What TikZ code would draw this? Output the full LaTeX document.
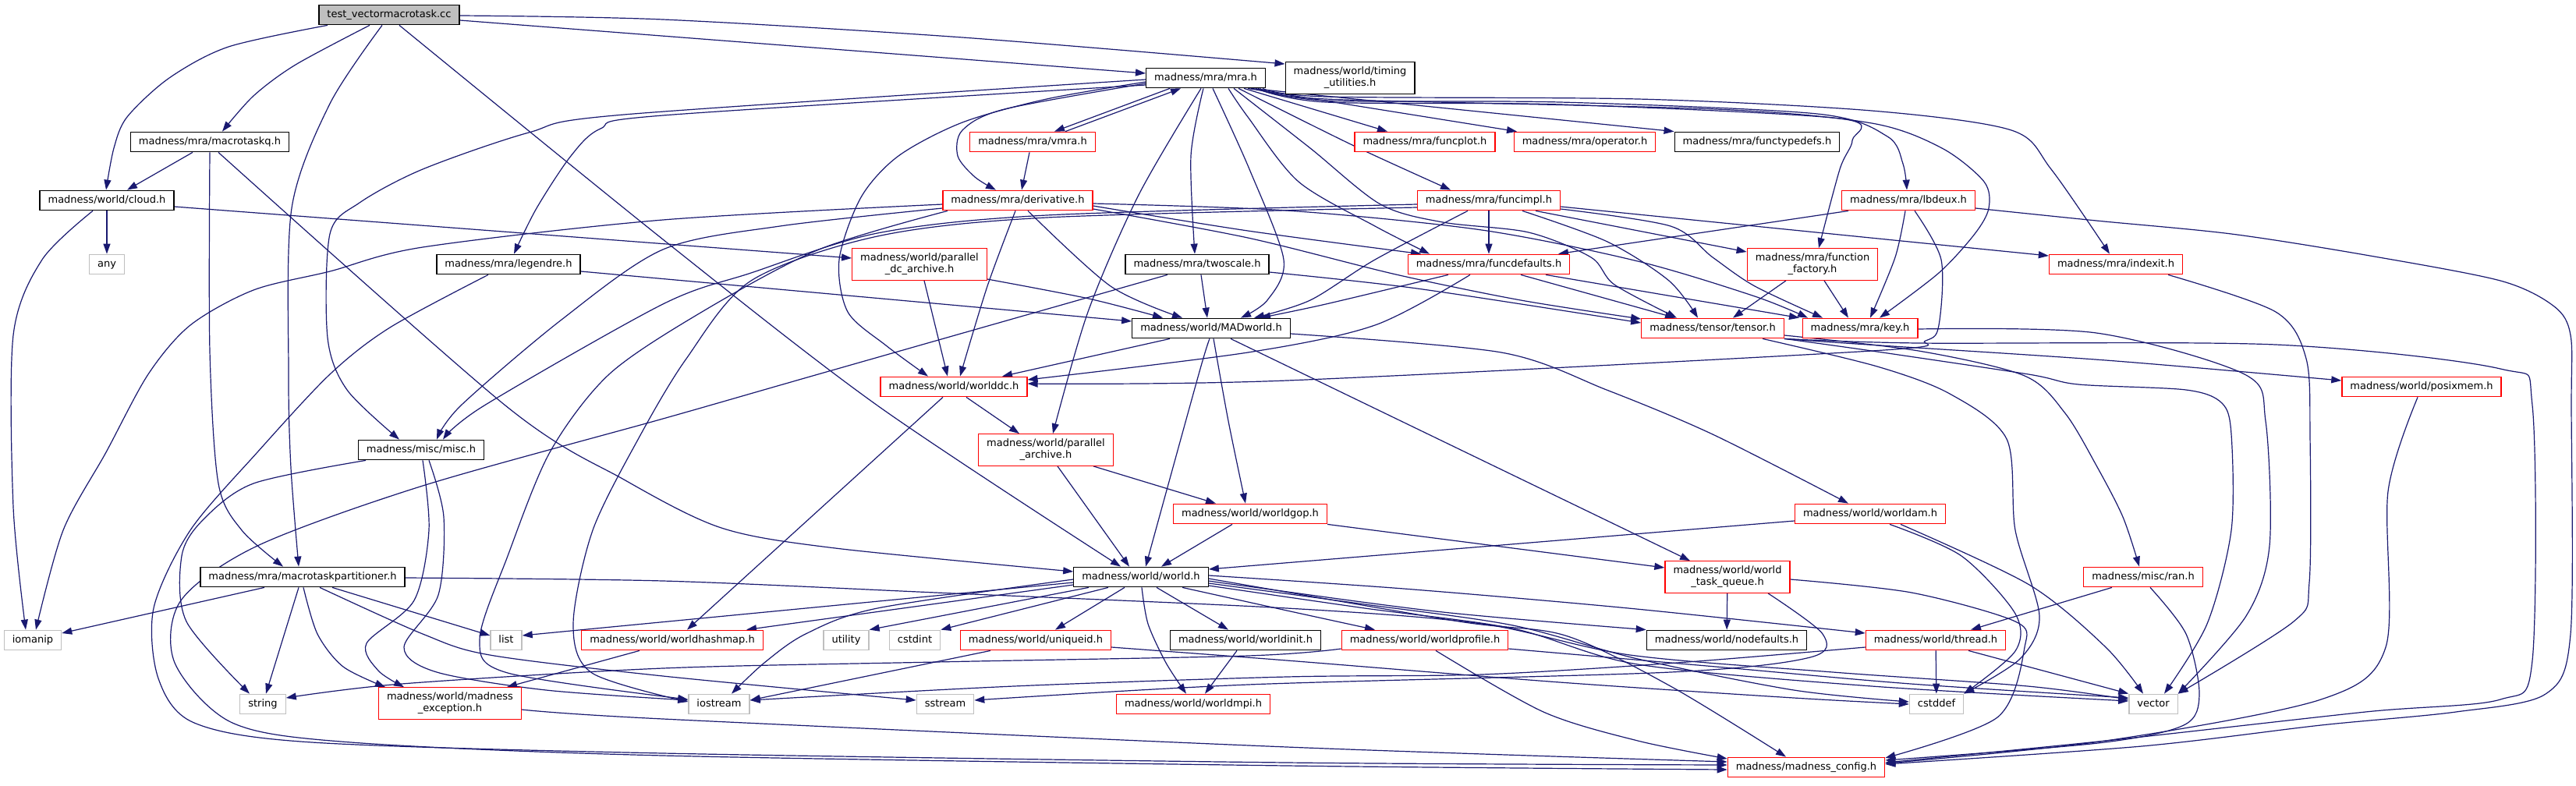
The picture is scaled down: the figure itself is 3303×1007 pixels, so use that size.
\documentclass[tikz,border=0pt]{standalone}
\usepackage{fontspec}
\setmainfont{DejaVu Sans}
\usetikzlibrary{arrows.meta}
\definecolor{edgec}{HTML}{191970}
\definecolor{rdc}{HTML}{FF0000}
\definecolor{grc}{HTML}{BFBFBF}
\pgfdeclarelayer{background}
\pgfsetlayers{background,main}
\tikzset{
 box/.style={draw, line width=1.3pt, fill=white, inner xsep=10.5pt, inner ysep=0pt, minimum height=25.5pt, font=\fontsize{13pt}{15pt}\selectfont, text height=9.6pt, text depth=2.9pt},
 rd/.style={box, draw=rdc},
 bk/.style={box, draw=black},
 gy/.style={box, draw=grc},
 two/.style={align=center, text height={}, text depth={}, minimum height=40.5pt, inner ysep=2pt},
 edge/.style={draw=edgec, line width=1.2pt, -{Triangle[length=13pt,width=9pt]}},
}
\begin{document}
\begin{tikzpicture}[x=1pt,y=-1pt]
\useasboundingbox (0,0) rectangle (3303,1007);
% nodes
\node[bk,fill=grc] (test) at (499,19) {test\_vectormacrotask.cc};
\node[bk] (mra) at (1546,100) {madness/mra/mra.h};
\node[bk,two] (timing) at (1731,100) {madness/world/timing\\\_utilities.h};
\node[bk] (mtq) at (269,182) {madness/mra/macrotaskq.h};
\node[rd] (vmra) at (1324,182) {madness/mra/vmra.h};
\node[rd] (funcplot) at (1827,182) {madness/mra/funcplot.h};
\node[rd] (operator) at (2032,182) {madness/mra/operator.h};
\node[bk] (functypedefs) at (2253,182) {madness/mra/functypedefs.h};
\node[bk] (cloud) at (137,257) {madness/world/cloud.h};
\node[rd] (deriv) at (1305,257) {madness/mra/derivative.h};
\node[rd] (funcimpl) at (1909,257) {madness/mra/funcimpl.h};
\node[rd] (lbdeux) at (2447,257) {madness/mra/lbdeux.h};
\node[gy] (any) at (137,339) {any};
\node[bk] (legendre) at (652,339) {madness/mra/legendre.h};
\node[rd,two] (pdca) at (1179,339) {madness/world/parallel\\\_dc\_archive.h};
\node[bk] (twoscale) at (1535,339) {madness/mra/twoscale.h};
\node[rd] (funcdef) at (1909,339) {madness/mra/funcdefaults.h};
\node[rd,two] (ffact) at (2324,339) {madness/mra/function\\\_factory.h};
\node[rd] (indexit) at (2713,339) {madness/mra/indexit.h};
\node[bk] (MAD) at (1553,421) {madness/world/MADworld.h};
\node[rd] (tensor) at (2196,421) {madness/tensor/tensor.h};
\node[rd] (key) at (2385,421) {madness/mra/key.h};
\node[rd] (worlddc) at (1223,496) {madness/world/worlddc.h};
\node[rd] (posix) at (3105,496) {madness/world/posixmem.h};
\node[bk] (misc) at (540,577) {madness/misc/misc.h};
\node[rd,two] (parch) at (1341,577) {madness/world/parallel\\\_archive.h};
\node[rd] (worldgop) at (1603,659) {madness/world/worldgop.h};
\node[rd] (worldam) at (2398,659) {madness/world/worldam.h};
\node[bk] (mtp) at (388,740) {madness/mra/macrotaskpartitioner.h};
\node[bk] (world) at (1463,740) {madness/world/world.h};
\node[rd,two] (wtq) at (2215,740) {madness/world/world\\\_task\_queue.h};
\node[rd] (ran) at (2748,740) {madness/misc/ran.h};
\node[gy] (iomanip) at (42,821) {iomanip};
\node[gy] (list) at (649,821) {list};
\node[rd] (whash) at (862,821) {madness/world/worldhashmap.h};
\node[gy] (utility) at (1085,821) {utility};
\node[gy] (cstdint) at (1173,821) {cstdint};
\node[rd] (uniqueid) at (1328,821) {madness/world/uniqueid.h};
\node[bk] (worldinit) at (1597,821) {madness/world/worldinit.h};
\node[rd] (wprof) at (1827,821) {madness/world/worldprofile.h};
\node[bk] (nodefaults) at (2214,821) {madness/world/nodefaults.h};
\node[rd] (thread) at (2482,821) {madness/world/thread.h};
\node[gy] (string) at (337,903) {string};
\node[rd,two] (mexc) at (577,902) {madness/world/madness\\\_exception.h};
\node[gy] (iostream) at (922,903) {iostream};
\node[gy] (sstream) at (1212,903) {sstream};
\node[rd] (worldmpi) at (1530,903) {madness/world/worldmpi.h};
\node[gy] (cstddef) at (2483,903) {cstddef};
\node[gy] (vector) at (2761,903) {vector};
\node[rd] (config) at (2316,984) {madness/madness\_config.h};
\begin{pgfonlayer}{background}
\fill[white] (0,0) rectangle (3303,1007);
% test
\draw[edge] (test.east |- 0,26) -- (mra.west |- 0,94);
\draw[edge] plot[smooth] coordinates {(test.east |- 0,20) (850,25) (1234,48) (timing.west |- 0,82)};
\draw[edge] plot[smooth] coordinates {(test.south -| 474,0) (379,83) (325,123) (mtq.north -| 285,0)};
\draw[edge] plot[smooth] coordinates {(test.south -| 420,0) (293,60) (217,100) (163,150) (146,190) (cloud.north -| 136,0)};
\draw[edge] plot[smooth] coordinates {(test.south -| 490,0) (423,133) (374,267) (370,480) (373,600) (mtp.north -| 383,0)};
\draw[edge] plot[smooth] coordinates {(test.south -| 512,0) (850,307) (1125,520) (world.north -| 1437,0)};
% mtq
\draw[edge] (mtq.south -| 247,0) -- (cloud.north -| 163,0);
\draw[edge] plot[smooth] coordinates {(mtq.south -| 269,0) (269,450) (280,620) (310,680) (mtp.north -| 363,0)};
\draw[edge] plot[smooth] coordinates {(mtq.south -| 280,0) (648,520) (800,615) (925,677) (1071,703) (world.west |- 0,733)};
% cloud
\draw[edge] (cloud) -- (any);
\draw[edge] plot[smooth] coordinates {(cloud.south -| 119,0) (54,333) (17,430) (17,650) (iomanip.north -| 33,0)};
\draw[edge] (cloud.east |- 0,265) -- (pdca.west |- 0,331);
% mra
\draw[edge] (mra.south -| 1500,0) -- (vmra.north -| 1352,0);
\draw[edge] (vmra.north -| 1366,0) -- (mra.south -| 1514,0);
\draw[edge] plot[smooth] coordinates {(mra.west |- 0,107) (1288,140) (1234,167) (1228,200) (1250,227) (deriv.north -| 1277,0)};
\draw[edge] plot[smooth] coordinates {(mra.west |- 0,105) (1342,127) (1234,157) (1152,200) (1104,253) (1076,333) (1087,400) (1136,443) (worlddc.north -| 1190,0)};
\draw[edge] plot[smooth] coordinates {(mra.west |- 0,102) (800,147) (678,170) (542,217) (461,260) (423,300) (420,433) (445,500) (misc.north -| 512,0)};
\draw[edge] plot[smooth] coordinates {(mra.west |- 0,109) (850,148) (770,165) (732,200) (688,267) (legendre.north -| 659,0)};
\draw[edge] plot[smooth] coordinates {(mra.south -| 1540,0) (1460,250) (1395,400) (parch.north -| 1350,0)};
\draw[edge] plot[smooth] coordinates {(mra.south -| 1543,0) (1527,200) (twoscale.north -| 1532,0)};
\draw[edge] plot[smooth] coordinates {(mra.south -| 1555,0) (1602,217) (1646,333) (1625,385) (MAD.north -| 1591,0)};
\draw[edge] (mra.south -| 1595,0) -- (funcplot.north -| 1779,0);
\draw[edge] (mra.south -| 1600,0) -- (operator.north -| 1945,0);
\draw[edge] (mra.south -| 1604,0) -- (functypedefs.north west);
\draw[edge] plot[smooth] coordinates {(mra.south -| 1588,0) (1736,187) (funcimpl.north -| 1860,0)};
\draw[edge] plot[smooth] coordinates {(mra.south -| 1575,0) (1600,150) (1665,233) (1763,290) (funcdef.north -| 1833,0)};
\draw[edge] plot[smooth] coordinates {(mra.south -| 1582,0) (1680,190) (1770,262) (1850,285) (1960,298) (2040,330) (2070,365) (tensor.north -| 2150,0)};
\draw[edge] plot[smooth] coordinates {(mra.south -| 1610,0) (1700,131) (2000,134) (2359,152) (2375,180) (2359,217) (ffact.north -| 2332,0)};
\draw[edge] plot[smooth] coordinates {(mra.south -| 1613,0) (1700,129) (2000,131) (2330,146) (2420,175) (2440,210) (lbdeux.north -| 2445,0)};
\draw[edge] plot[smooth] coordinates {(mra.south -| 1616,0) (1700,127) (2200,140) (2400,158) (2490,190) (2544,233) (2550,267) (2532,300) (2486,350) (key.north -| 2410,0)};
\draw[edge] plot[smooth] coordinates {(mra.south -| 1619,0) (1700,124) (2100,127) (2400,142) (2579,167) (2630,217) (indexit.north -| 2705,0)};
% vmra
\draw[edge] (vmra.south -| 1320,0) -- (deriv.north -| 1310,0);
% deriv
\draw[edge] plot[smooth] coordinates {(deriv.west |- 0,262) (850,282) (542,317) (423,348) (325,372) (244,417) (190,480) (136,580) (81,680) (iomanip.north -| 46,0)};
\draw[edge] plot[smooth] coordinates {(deriv.west |- 0,267) (1000,290) (850,320) (720,410) (591,520) (misc.north -| 560,0)};
\draw[edge] plot[smooth] coordinates {(deriv.south -| 1215,0) (1050,320) (900,400) (781,480) (705,580) (651,713) (615,820) (651,863) (iostream.west |- 0,897)};
\draw[edge] plot[smooth] coordinates {(deriv.south -| 1302,0) (1266,367) (worlddc.north -| 1231,0)};
\draw[edge] plot[smooth] coordinates {(deriv.south -| 1318,0) (1424,367) (MAD.north -| 1516,0)};
\draw[edge] plot[smooth] coordinates {(deriv.east |- 0,261) (1650,270) (1900,295) (2100,335) (2250,380) (key.north -| 2318,0)};
\draw[edge] plot[smooth] coordinates {(deriv.east |- 0,268) (1600,305) (1790,352) (1950,385) (tensor.west |- 0,409)};
\draw[edge] plot[smooth] coordinates {(deriv.east |- 0,264) (1600,296) (funcdef.north -| 1822,0)};
% funcimpl
\draw[edge] (funcimpl) -- (funcdef);
\draw[edge] plot[smooth] coordinates {(funcimpl.west |- 0,262) (1342,276) (1125,299) (963,350) (850,390) (621,520) (misc.north -| 568,0)};
\draw[edge] plot[smooth] coordinates {(funcimpl.west |- 0,266) (1342,279) (1125,303) (963,360) (880,460) (820,560) (760,680) (735,800) (759,863) (iostream.west |- 0,900)};
\draw[edge] plot[smooth] coordinates {(funcimpl.south -| 1882,0) (1763,333) (1680,385) (MAD.north -| 1608,0)};
\draw[edge] plot[smooth] coordinates {(funcimpl.south -| 1952,0) (2061,310) (2140,360) (tensor.north -| 2177,0)};
\draw[edge] plot[smooth] coordinates {(funcimpl.east |- 0,268) (2142,290) (2196,330) (2250,367) (key.north -| 2337,0)};
\draw[edge] (funcimpl.south -| 1969,0) -- (ffact.west |- 0,323);
\draw[edge] (funcimpl.east |- 0,265) -- (indexit.west |- 0,328);
% lbdeux
\draw[edge] (lbdeux.south -| 2370,0) -- (funcdef.north -| 1998,0);
\draw[edge] plot[smooth] coordinates {(lbdeux.south -| 2443,0) (2430,330) (key.north -| 2398,0)};
\draw[edge] plot[smooth] coordinates {(lbdeux.south -| 2455,0) (2489,333) (2486,417) (2469,437) (2400,450) (1650,488) (worlddc.east |- 0,492)};
\draw[edge] plot[smooth] coordinates {(lbdeux.east |- 0,267) (2688,283) (2861,300) (3033,327) (3206,360) (3275,393) (3296,430) (3297,520) (3296,813) (3264,890) (3149,913) (2976,930) (2746,957) (config.east |- 0,980)};
% legendre
\draw[edge] (legendre.east |- 0,348) -- (MAD.west |- 0,412);
\draw[edge] plot[smooth] coordinates {(legendre.south -| 626,0) (500,420) (423,480) (330,580) (244,680) (197,780) (203,870) (249,927) (400,952) (850,966) (1650,978) (config.west |- 0,981)};
% pdca
\draw[edge] (pdca.south -| 1185,0) -- (worlddc.north -| 1215,0);
\draw[edge] plot[smooth] coordinates {(pdca.east |- 0,358) (1396,383) (MAD.north -| 1491,0)};
% twoscale
\draw[edge] (twoscale.south -| 1540,0) -- (MAD.north -| 1548,0);
\draw[edge] plot[smooth] coordinates {(twoscale.east |- 0,349) (1817,370) (tensor.west |- 0,414)};
\draw[edge] plot[smooth] coordinates {(twoscale.south -| 1497,0) (1049,480) (850,537) (542,623) (330,700) (232,770) (224,850) (298,927) (450,952) (850,969) (1650,982) (config.west |- 0,987)};
% funcdef
\draw[edge] plot[smooth] coordinates {(funcdef.south -| 1857,0) (1700,390) (MAD.north -| 1616,0)};
\draw[edge] plot[smooth] coordinates {(funcdef.south -| 1885,0) (1763,417) (1600,452) (worlddc.east |- 0,487)};
\draw[edge] (funcdef.south -| 1950,0) -- (tensor.north -| 2148,0);
\draw[edge] (funcdef.south -| 1982,0) -- (key.north -| 2307,0);
% ffact
\draw[edge] (ffact.south -| 2290,0) -- (tensor.north -| 2222,0);
\draw[edge] (ffact.south -| 2339,0) -- (key.north -| 2370,0);
% indexit
\draw[edge] plot[smooth] coordinates {(indexit.south -| 2780,0) (2918,400) (2957,460) (2962,560) (2961,747) (2941,797) (vector.north east)};
% MAD
\draw[edge] (MAD.south -| 1500,0) -- (worlddc.north -| 1285,0);
\draw[edge] plot[smooth] coordinates {(MAD.south -| 1551,0) (1537,480) (world.north -| 1469,0)};
\draw[edge] plot[smooth] coordinates {(MAD.south -| 1556,0) (1575,540) (worldgop.north -| 1597,0)};
\draw[edge] plot[smooth] coordinates {(MAD.east |- 0,428) (1925,452) (2060,500) (2196,557) (worldam.north -| 2370,0)};
\draw[edge] (MAD.south -| 1578,0) -- (wtq.north -| 2167,0);
% tensor
\draw[edge] plot[smooth] coordinates {(tensor.south east) (2380,441) (2700,462) (posix.west |- 0,488)};
\draw[edge] plot[smooth] coordinates {(tensor.east |- 0,430) (2460,450) (2596,482) (2648,530) (2688,597) (2722,663) (ran.north -| 2743,0)};
\draw[edge] plot[smooth] coordinates {(tensor.south -| 2260,0) (2407,470) (2500,505) (2573,563) (2584,680) (2615,790) (2590,845) (cstddef.north east)};
\draw[edge] plot[smooth] coordinates {(tensor.south east) (2400,450) (2601,480) (2665,493) (2803,500) (2849,517) (2861,557) (2861,680) (2830,800) (vector.north -| 2775,0)};
\draw[edge] plot[smooth] coordinates {(tensor.south east) (2459,440) (2918,442) (3206,473) (3247,520) (3247,847) (3206,897) (3033,913) (2700,950) (config.east |- 0,978)};
% key
\draw[edge] plot[smooth] coordinates {(key.east |- 0,422) (2688,427) (2878,480) (2905,540) (2910,700) (2880,790) (vector.north east)};
% worlddc
\draw[edge] (worlddc.south -| 1239,0) -- (parch.north -| 1307,0);
\draw[edge] (worlddc.south -| 1209,0) -- (whash.north -| 881,0);
% posix
\draw[edge] plot[smooth] coordinates {(posix.south -| 3100,0) (3062,630) (3059,830) (2976,897) (2700,950) (config.east |- 0,979)};
% misc
\draw[edge] plot[smooth] coordinates {(misc.south -| 469,0) (325,620) (260,667) (233,713) (239,797) (string.north -| 320,0)};
\draw[edge] plot[smooth] coordinates {(misc.south -| 542,0) (550,680) (531,770) (470,825) (485,860) (mexc.north -| 518,0)};
\draw[edge] plot[smooth] coordinates {(misc.south -| 550,0) (569,663) (562,763) (518,830) (560,862) (700,885) (iostream.west |- 0,898)};
% parch
\draw[edge] (parch.south -| 1356,0) -- (world.north -| 1448,0);
\draw[edge] (parch.south -| 1402,0) -- (worldgop.north -| 1559,0);
% worldgop
\draw[edge] (worldgop.south -| 1580,0) -- (world.north -| 1489,0);
\draw[edge] (worldgop.south east) -- (wtq.west |- 0,728);
% worldam
\draw[edge] (worldam.west |- 0,668) -- (world.east |- 0,730);
\draw[edge] plot[smooth] coordinates {(worldam.south -| 2423,0) (2515,713) (2584,787) (2584,835) (cstddef.north east)};
\draw[edge] plot[smooth] coordinates {(worldam.south -| 2437,0) (2602,750) (2700,830) (vector.north -| 2748,0)};
% mtp
\draw[edge] (mtp.south -| 339,0) -- (iomanip.east |- 0,812);
\draw[edge] (mtp.south -| 383,0) -- (string.north -| 341,0);
\draw[edge] plot[smooth] coordinates {(mtp.south -| 389,0) (407,813) (440,855) (mexc.north -| 494,0)};
\draw[edge] (mtp.south -| 426,0) -- (list.west |- 0,815);
\draw[edge] plot[smooth] coordinates {(mtp.south -| 410,0) (542,813) (628,840) (850,867) (sstream.west |- 0,898)};
\draw[edge] plot[smooth] coordinates {(mtp.east |- 0,741) (850,745) (1200,760) (1650,780) (1900,800) (2090,840) (2350,862) (2600,880) (vector.west |- 0,897)};
% world
\draw[edge] plot[smooth] coordinates {(world.west |- 0,743) (1125,780) (1033,813) (980,850) (iostream.north -| 938,0)};
\draw[edge] (world.west |- 0,747) -- (list.east |- 0,815);
\draw[edge] (world.west |- 0,750) -- (whash.north -| 957,0);
\draw[edge] (world.south -| 1396,0) -- (utility.north east);
\draw[edge] (world.south -| 1421,0) -- (cstdint.north east);
\draw[edge] (world.south -| 1442,0) -- (uniqueid.north -| 1353,0);
\draw[edge] plot[smooth] coordinates {(world.south -| 1464,0) (1472,800) (1495,850) (worldmpi.north -| 1521,0)};
\draw[edge] (world.south -| 1483,0) -- (worldinit.north -| 1575,0);
\draw[edge] plot[smooth] coordinates {(world.south -| 1516,0) (1650,783) (wprof.north -| 1763,0)};
\draw[edge] plot[smooth] coordinates {(world.east |- 0,745) (1600,752) (1850,785) (nodefaults.north west)};
\draw[edge] plot[smooth] coordinates {(world.east |- 0,738) (1800,755) (2088,780) (thread.west |- 0,812)};
\draw[edge] plot[smooth] coordinates {(world.east |- 0,748) (1750,775) (1940,802) (2100,845) (2300,885) (cstddef.west |- 0,900)};
\draw[edge] plot[smooth] coordinates {(world.east |- 0,751) (1750,780) (1940,806) (2100,852) (2400,880) (vector.west |- 0,899)};
\draw[edge] plot[smooth] coordinates {(world.east |- 0,742) (1871,797) (2007,815) (2142,880) (config.north -| 2290,0)};
% wtq
\draw[edge] (wtq) -- (nodefaults);
\draw[edge] plot[smooth] coordinates {(wtq.south -| 2267,0) (2337,813) (2321,843) (2142,862) (1600,878) (sstream.east |- 0,898)};
\draw[edge] plot[smooth] coordinates {(wtq.east |- 0,743) (2451,760) (2584,797) (2596,830) (2561,920) (config.east |- 0,972)};
% thread
\draw[edge] (thread) -- (cstddef);
\draw[edge] (thread.south -| 2524,0) -- (vector.north west);
\draw[edge] plot[smooth] coordinates {(thread.west |- 0,830) (2150,850) (1900,865) (1650,868) (1300,880) (iostream.east |- 0,898)};
% ran
\draw[edge] (ran.south -| 2708,0) -- (thread.north -| 2527,0);
\draw[edge] plot[smooth] coordinates {(ran.south -| 2757,0) (2803,813) (2820,890) (2800,930) (2690,953) (config.east |- 0,975)};
% whash
\draw[edge] (whash.south -| 820,0) -- (mexc.north -| 650,0);
% uniqueid
\draw[edge] (uniqueid.south -| 1270,0) -- (iostream.east |- 0,898);
\draw[edge] plot[smooth] coordinates {(uniqueid.east |- 0,830) (1650,847) (2000,875) (2300,895) (cstddef.west |- 0,903)};
% worldinit
\draw[edge] (worldinit.south -| 1586,0) -- (worldmpi.north -| 1545,0);
% wprof
\draw[edge] plot[smooth] coordinates {(wprof.west |- 0,832) (1600,841) (1200,849) (850,857) (515,877) (string.east |- 0,895)};
\draw[edge] plot[smooth] coordinates {(wprof.south -| 1841,0) (1979,913) (2100,950) (config.west |- 0,973)};
\draw[edge] plot[smooth] coordinates {(wprof.east |- 0,832) (2200,855) (2450,877) (vector.west |- 0,895)};
% mexc
\draw[edge] plot[smooth] coordinates {(mexc.east |- 0,910) (850,922) (1650,958) (config.west |- 0,977)};
\end{pgfonlayer}
\end{tikzpicture}
\end{document}
